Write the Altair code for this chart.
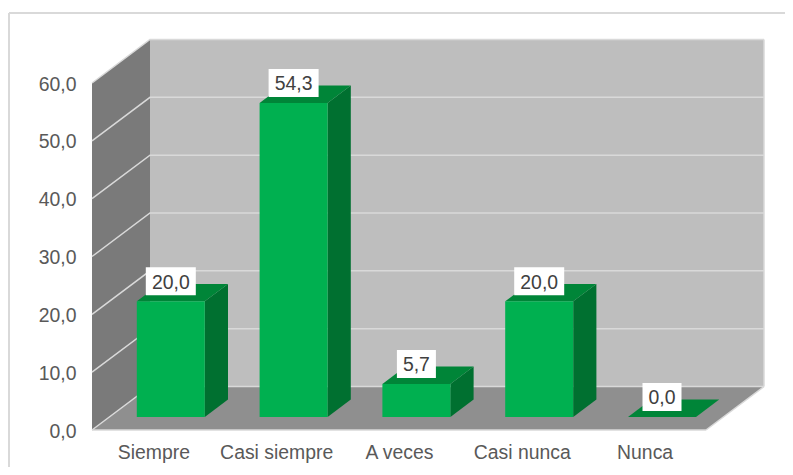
import altair as alt

# ---- values
categories = ["Siempre", "Casi siempre", "A veces", "Casi nunca", "Nunca"]
values = [20.0, 54.3, 5.7, 20.0, 0.0]
labels = ["20,0", "54,3", "5,7", "20,0", "0,0"]
ticks = [0, 10, 20, 30, 40, 50, 60]

# ---- oblique projection, in data units
PX_U = 122.8            # pixels per category
PX_V = 5.783            # pixels per value unit
DX = 58 / PX_U          # shift of the full depth, in category units
DV = 43.5 / PX_V        # shift of the full depth, in value units
NEAR, FAR = 0.3, 0.7    # bar depth range
HALF = 34 / PX_U        # half bar width
W, H = 777, 459
X_DOM = [(8 - 92) / PX_U, (8 + W - 92) / PX_U]
Y_DOM = [(430 - (8 + H)) / PX_V, (430 - 8) / PX_V]
N = len(categories)
VMAX = ticks[-1]

FONT = "Liberation Sans"
cat_expr = "[" + ",".join(f"'{c}'" for c in categories) + "][datum.value-0.5]"
X_AXIS = alt.Axis(
    values=[i + 0.5 for i in range(N)], labelExpr=cat_expr, title=None,
    domain=False, ticks=False, grid=False, offset=-37, labelPadding=13,
    labelFont=FONT, labelFontSize=19.4, labelColor="#595959",
    labelOverlap=False, labelFlush=False, labelBound=False,
)
Y_AXIS = alt.Axis(
    values=ticks, labelExpr="replace(format(datum.value,'.1f'),'.',',')", title=None,
    domain=False, ticks=False, grid=False, offset=-84, labelPadding=16, labelOffset=1,
    labelFont=FONT, labelFontSize=19.4, labelColor="#595959",
    labelOverlap=False, labelFlush=False, labelBound=False,
)


def X(f):
    return alt.X(f, type="quantitative", scale=alt.Scale(domain=X_DOM, nice=False, zero=False), axis=X_AXIS)


def Y(f):
    return alt.Y(f, type="quantitative", scale=alt.Scale(domain=Y_DOM, nice=False, zero=False), axis=Y_AXIS)


def px(u, d):
    return u + d * DX


def py(v, d):
    return v + d * DV


def df(rows):
    return alt.Data(values=rows)


# ---- walls and floor
left_wall = alt.Chart(df([
    {"x": px(0, d), "y": py(0, d), "y2": py(VMAX, d)} for d in (0, 1)
])).mark_area(color="#7A7A7A", orient="vertical").encode(x=X("x"), y=Y("y"), y2="y2")

back_wall = alt.Chart(df([
    {"x": px(0, 1), "x2": px(N, 1), "y": py(0, 1), "y2": py(VMAX, 1)}
])).mark_rect(color="#BEBEBE").encode(x=X("x"), x2="x2", y=Y("y"), y2="y2")

floor = alt.Chart(df([
    {"x": px(0, d), "x2": px(N, d), "y": py(0, d)} for d in (0, 1)
])).mark_area(color="#8F8F8F", orient="horizontal").encode(y=Y("y"), x=X("x"), x2="x2")

# ---- gridlines on both walls, from the ticks
grid_rows = []
for t in ticks:
    grid_rows += [
        {"t": t, "i": 0, "x": px(0, 0), "y": py(t, 0)},
        {"t": t, "i": 1, "x": px(0, 1), "y": py(t, 1)},
        {"t": t, "i": 2, "x": px(N, 1), "y": py(t, 1)},
    ]
grid = alt.Chart(df(grid_rows)).mark_line(color="#D9D9D9", strokeWidth=1.5).encode(
    x=X("x"), y=Y("y"), detail="t:N", order="i:Q"
)

edges = alt.Chart(df([
    {"k": "front", "i": 0, "x": px(0, 0), "y": py(0, 0)},
    {"k": "front", "i": 1, "x": px(N, 0), "y": py(0, 0)},
    {"k": "side", "i": 0, "x": px(N, 0), "y": py(0, 0)},
    {"k": "side", "i": 1, "x": px(N, 1), "y": py(0, 1)},
    {"k": "right", "i": 0, "x": px(N, 1), "y": py(0, 1)},
    {"k": "right", "i": 1, "x": px(N, 1), "y": py(VMAX, 1)},
])).mark_line(color="#D9D9D9", strokeWidth=1.5).encode(
    x=X("x"), y=Y("y"), detail="k:N", order="i:Q"
)

# ---- bars
front, side, top, boxes, texts = [], [], [], [], []
for i, (v, lab) in enumerate(zip(values, labels)):
    c = i + 0.5
    a, b = c - HALF, c + HALF
    front.append({"x": px(a, NEAR), "x2": px(b, NEAR), "y": py(0, NEAR), "y2": py(v, NEAR)})
    for d in (NEAR, FAR):
        side.append({"id": i, "x": px(b, d), "y": py(0, d), "y2": py(v, d)})
        top.append({"id": i, "x": px(a, d), "x2": px(b, d), "y": py(v, d)})
    hw = (25 if v >= 10 else 19.5) / PX_U
    cx = px(c, NEAR)
    base = py(v, NEAR)
    boxes.append({"x": cx - hw, "x2": cx + hw, "y": base + 6 / PX_V, "y2": base + 34 / PX_V})
    texts.append({"x": cx, "y": base + 18.5 / PX_V, "t": lab})

bar_side = alt.Chart(df(side)).mark_area(color="#007030", orient="vertical").encode(
    x=X("x"), y=Y("y"), y2="y2", detail="id:N"
)
bar_top = alt.Chart(df(top)).mark_area(color="#008538", orient="horizontal").encode(
    y=Y("y"), x=X("x"), x2="x2", detail="id:N"
)
bar_front = alt.Chart(df(front)).mark_rect(color="#00B050").encode(
    x=X("x"), x2="x2", y=Y("y"), y2="y2"
)
box = alt.Chart(df(boxes)).mark_rect(color="#FFFFFF").encode(
    x=X("x"), x2="x2", y=Y("y"), y2="y2"
)
text = alt.Chart(df(texts)).mark_text(
    font=FONT, fontSize=19.4, color="#404040", baseline="middle", align="center"
).encode(x=X("x"), y=Y("y"), text="t:N")

# ---- outer frame
blank = df([{}])
frame_left = alt.Chart(blank).mark_rule(color="#D9D9D9", strokeWidth=2).encode(
    x=alt.value(1), y=alt.value(5), y2=alt.value(H)
)
frame_top = alt.Chart(blank).mark_rule(color="#D9D9D9", strokeWidth=2).encode(
    y=alt.value(5), x=alt.value(1), x2=alt.value(W)
)

chart = alt.layer(
    frame_left, frame_top, back_wall, left_wall, floor, grid, edges,
    bar_side, bar_top, bar_front, box, text,
).properties(
    width=W, height=H,
    autosize=alt.AutoSizeParams(type="none"),
    padding=0, background="#FFFFFF",
).configure_view(stroke=None)

chart.save("out.html", embed_options={"renderer": "svg", "actions": False})
